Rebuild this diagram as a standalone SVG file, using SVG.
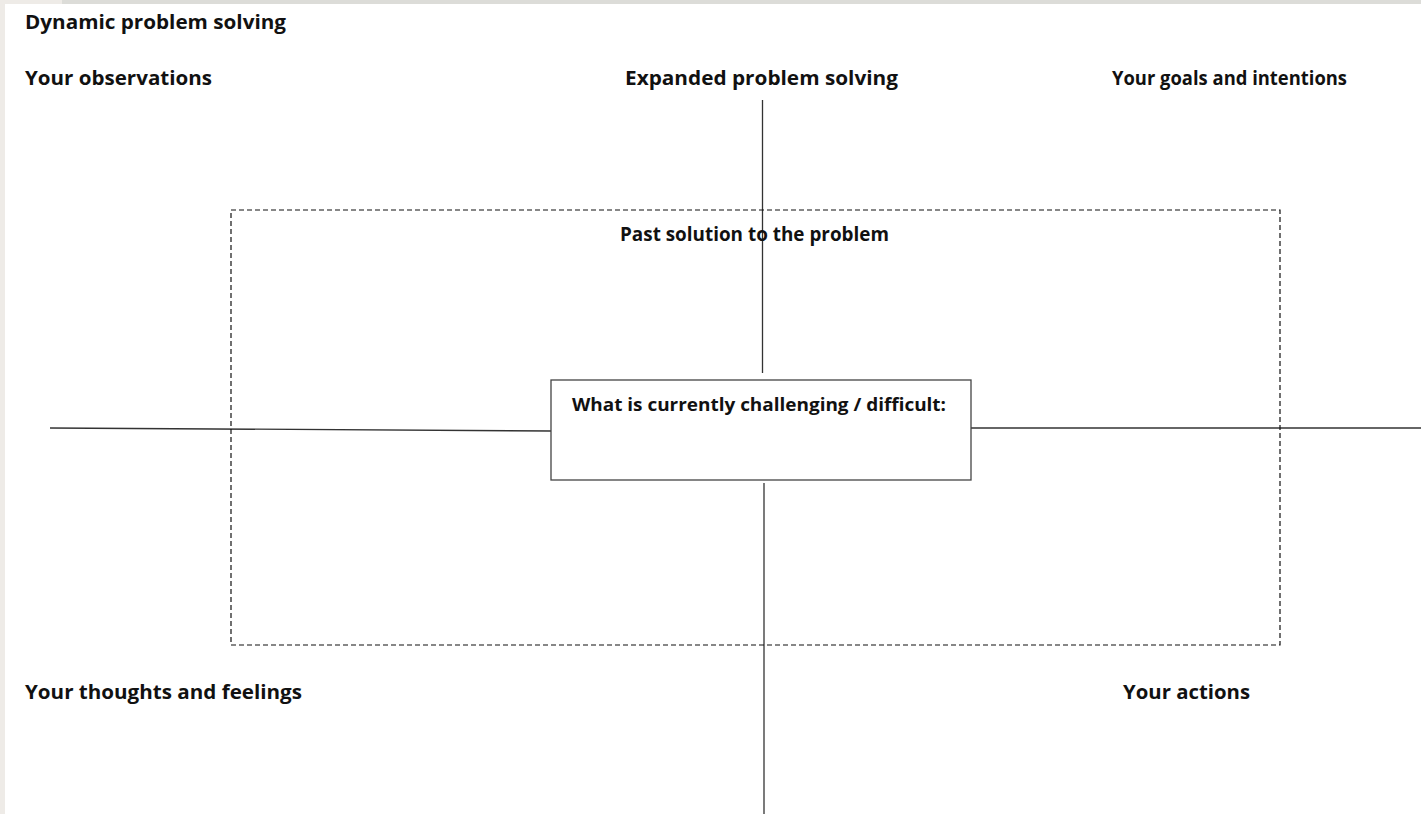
<svg xmlns="http://www.w3.org/2000/svg" width="1421" height="814" viewBox="0 0 1421 814">
<style>
.t{font-family:"Open Sans","Liberation Sans",sans-serif;font-weight:bold;font-size:19px;fill:#111}
.ln{stroke:#333;stroke-width:1.3;fill:none}
</style>
<rect x="0" y="0" width="1421" height="814" fill="#ffffff"/>
<rect x="0" y="0" width="1421" height="4" fill="#dcdcd8"/>
<rect x="0" y="0" width="5" height="814" fill="#eeebe7"/>
<rect x="0" y="0" width="62" height="4" fill="#eeebe7"/>
<g id="connectors">
<line class="ln" x1="762.5" y1="100" x2="762.5" y2="373"/>
<line class="ln" x1="764" y1="483" x2="764" y2="814"/>
<line class="ln" x1="50" y1="428" x2="551" y2="431"/>
<line class="ln" x1="971" y1="428" x2="1421" y2="428"/>
</g>
<g id="past-solution">
<rect x="231" y="210" width="1049" height="435" fill="none" stroke="#111" stroke-width="1.2" stroke-dasharray="5,3"/>
<text class="t" x="620" y="241" textLength="269" lengthAdjust="spacingAndGlyphs">Past solution to the problem</text>
</g>
<g id="title"><text class="t" x="25" y="29" textLength="261" lengthAdjust="spacingAndGlyphs">Dynamic problem solving</text></g>
<g id="observations"><text class="t" x="25" y="85" textLength="187" lengthAdjust="spacingAndGlyphs">Your observations</text></g>
<g id="expanded"><text class="t" x="625" y="85" textLength="273" lengthAdjust="spacingAndGlyphs">Expanded problem solving</text></g>
<g id="goals"><text class="t" x="1112" y="85" textLength="235" lengthAdjust="spacingAndGlyphs">Your goals and intentions</text></g>
<g id="thoughts"><text class="t" x="25" y="699" textLength="277" lengthAdjust="spacingAndGlyphs">Your thoughts and feelings</text></g>
<g id="actions"><text class="t" x="1123" y="699" textLength="127" lengthAdjust="spacingAndGlyphs">Your actions</text></g>
<g id="challenge">
<rect x="551" y="380" width="420" height="100" fill="#fff" stroke="#444" stroke-width="1.3"/>
<text class="t" x="572" y="411" textLength="374" lengthAdjust="spacingAndGlyphs" style="font-size:17px">What is currently challenging / difficult:</text>
</g>
</svg>
